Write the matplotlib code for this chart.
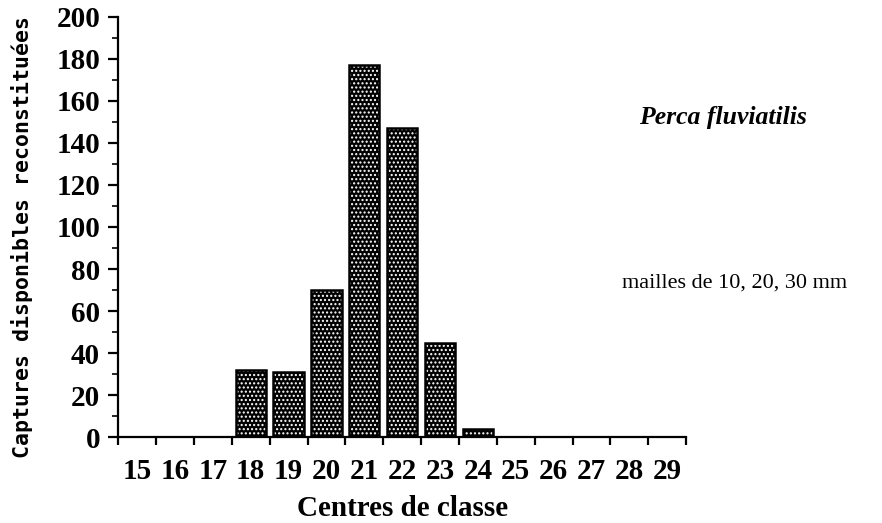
import numpy as np
import matplotlib.pyplot as plt
from matplotlib.ticker import MultipleLocator

# class centres and reconstructed catches
centres = [15, 16, 17, 18, 19, 20, 21, 22, 23, 24, 25, 26, 27, 28, 29]
captures = [0, 0, 0, 32, 31, 70, 177, 147, 45, 4, 0, 0, 0, 0, 0]
y_ticks = [0, 20, 40, 60, 80, 100, 120, 140, 160, 180, 200]

species = "Perca fluviatilis"
mesh_note = "mailles de 10, 20, 30 mm"

fig = plt.figure(figsize=(8.82, 5.23), dpi=100)
ax = fig.add_axes([0.134, 0.164, 0.644, 0.804])

# stippled bars: black fill with white dot hatch, then black outline
ax.bar(centres, captures, width=0.8, color="black", edgecolor="white",
       hatch="....", linewidth=0, zorder=2)
ax.bar(centres, captures, width=0.8, fill=False, edgecolor="black",
       linewidth=1.8, zorder=3)

ax.set_xlim(14.5, 29.5)
ax.set_ylim(0, 200)

for side in ("top", "right"):
    ax.spines[side].set_visible(False)
ax.spines["left"].set_linewidth(1.6)
ax.spines["bottom"].set_linewidth(1.6)

serif = "Liberation Serif"

# y axis
ax.set_yticks(y_ticks)
ax.yaxis.set_minor_locator(MultipleLocator(10))
ax.tick_params(axis="y", which="major", direction="out", length=7, width=1.6,
               pad=6)
ax.tick_params(axis="y", which="minor", direction="out", length=4, width=1.2)
for lab in ax.get_yticklabels():
    lab.set_fontfamily(serif)
    lab.set_fontweight("bold")
    lab.set_fontsize(21)

# x axis: ticks at class edges, labels at class centres
edges = np.arange(14.5, 30.5, 1.0)
ax.set_xticks(edges)
ax.set_xticklabels([])
ax.tick_params(axis="x", which="major", direction="out", length=6, width=1.6)
ax.set_xticks(centres, minor=True)
ax.set_xticklabels([str(c) for c in centres], minor=True,
                   fontfamily=serif, fontweight="bold", fontsize=21)
ax.tick_params(axis="x", which="minor", length=0, pad=15)

ax.set_xlabel("Centres de classe", fontfamily=serif, fontweight="bold",
              fontsize=21, labelpad=7)
ax.set_ylabel("Captures disponibles reconstituées", fontfamily="DejaVu Sans Mono",
              fontweight="bold", fontsize=15.5)
ax.yaxis.set_label_coords(-0.15, 0.475)

fig.text(0.725, 0.776, species, fontfamily=serif, fontweight="bold",
         fontstyle="italic", fontsize=18.5, va="center", ha="left")
fig.text(0.705, 0.459, mesh_note, fontfamily=serif, fontsize=16,
         va="center", ha="left")

fig.savefig("out.png", dpi=100)
